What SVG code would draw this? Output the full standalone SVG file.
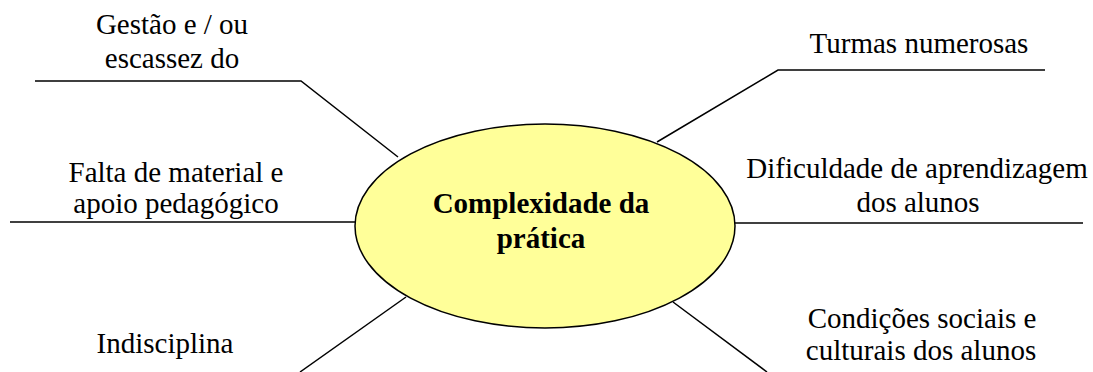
<svg xmlns="http://www.w3.org/2000/svg" width="1093" height="372" viewBox="0 0 1093 372">
<style>
text{font-family:'Liberation Serif','Times New Roman',serif;font-size:29px;fill:#000;text-anchor:middle}
.ctr{font-weight:bold}
.ln{stroke:#000;stroke-width:1.5;fill:none}
</style>
<rect width="1093" height="372" fill="#fff"/>
<g id="connectors">
<polyline class="ln" points="35,81 301,81 398,157"/>
<line class="ln" x1="10" y1="222" x2="357" y2="222"/>
<line class="ln" x1="300" y1="372" x2="406" y2="297"/>
<polyline class="ln" points="1045,70 778,70 657,142"/>
<line class="ln" x1="733" y1="223" x2="1083" y2="223"/>
<line class="ln" x1="673" y1="302" x2="767" y2="372"/>
</g>
<g id="center">
<ellipse cx="545" cy="226" rx="190" ry="102" fill="#FFFF99" stroke="#000" stroke-width="1.5"/>
<text class="ctr" x="541" y="213">Complexidade da</text>
<text class="ctr" x="541" y="248">prática</text>
</g>
<g id="n-gestao">
<text x="172" y="34">Gestão e / ou</text>
<text x="172" y="68">escassez do</text>
</g>
<g id="n-falta">
<text x="176" y="182">Falta de material e</text>
<text x="176" y="213">apoio pedagógico</text>
</g>
<g id="n-indisciplina">
<text x="165" y="353">Indisciplina</text>
</g>
<g id="n-turmas">
<text x="919" y="53">Turmas numerosas</text>
</g>
<g id="n-dificuldade">
<text x="917" y="178">Dificuldade de aprendizagem</text>
<text x="918" y="212">dos alunos</text>
</g>
<g id="n-condicoes">
<text x="922" y="328">Condições sociais e</text>
<text x="921" y="360">culturais dos alunos</text>
</g>
</svg>
